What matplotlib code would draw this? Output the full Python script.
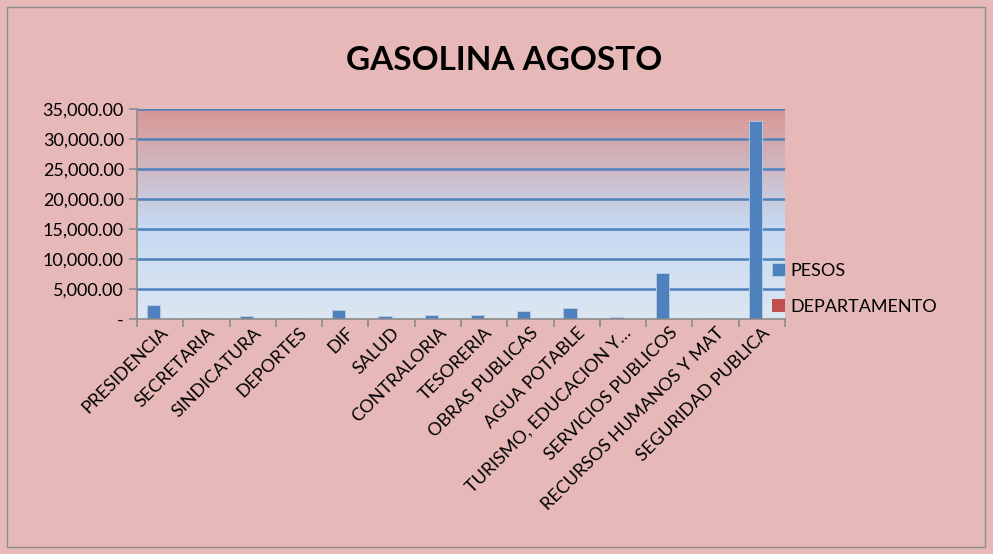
import matplotlib.pyplot as plt
from matplotlib.patches import Rectangle
from matplotlib.ticker import FuncFormatter
import numpy as np

plt.rcParams['font.family'] = ['Lato', 'DejaVu Sans']

departamentos = ["PRESIDENCIA", "SECRETARIA", "SINDICATURA", "DEPORTES", "DIF",
                 "SALUD", "CONTRALORIA", "TESORERIA", "OBRAS PUBLICAS",
                 "AGUA POTABLE", "TURISMO, EDUCACION Y…", "SERVICIOS PUBLICOS",
                 "RECURSOS HUMANOS Y MAT", "SEGURIDAD PUBLICA"]
pesos = [2300, 150, 500, 150, 1500, 500, 650, 700, 1300, 1800, 300, 7700, 250, 33000]
departamento = [0] * len(departamentos)

bg = '#E6B9B8'
fig = plt.figure(figsize=(9.93, 5.54), dpi=100, facecolor=bg)
ax = fig.add_axes([0.138, 0.424, 0.6525, 0.379])
fig.patches.append(Rectangle((0.007, 0.012), 0.985, 0.975, transform=fig.transFigure,
                             fill=False, edgecolor='#8c8c8c', lw=1))

# gradient background
top = np.array([0xD9, 0x96, 0x94]) / 255
mid = np.array([0xC6, 0xD9, 0xF1]) / 255
bot = np.array([0xDC, 0xE6, 0xF2]) / 255
n = 200
t = np.linspace(0, 1, n)
cols = np.zeros((n, 1, 3))
for i, v in enumerate(t):
    if v < 0.55:
        cols[i, 0] = top + (mid - top) * v / 0.55
    else:
        cols[i, 0] = mid + (bot - mid) * (v - 0.55) / 0.45
x = np.arange(len(departamentos))
ax.set_xlim(-0.5, len(departamentos) - 0.5)
ax.set_ylim(0, 35000)
ax.imshow(cols, aspect='auto', extent=[-0.5, len(departamentos) - 0.5, 0, 35000], zorder=0)
ax.set_facecolor('none')

for yv in range(5000, 35001, 5000):
    ax.axhline(yv, color='#4F81BD', lw=1.8, zorder=1)

w = 1 / 3.5
ax.bar(x - w / 2, pesos, w, color='#4F81BD', edgecolor='#B9CDE5', lw=0.6, zorder=2, label='PESOS')
ax.bar(x + w / 2, departamento, w, color='#C0504D', zorder=2, label='DEPARTAMENTO')

for s in ['top', 'right']:
    ax.spines[s].set_visible(False)
for s in ['left', 'bottom']:
    ax.spines[s].set_color('#8c8c8c')
    ax.spines[s].set_linewidth(1.2)

ax.set_yticks(range(0, 35001, 5000))
ax.yaxis.set_major_formatter(FuncFormatter(lambda v, p: '-' if v == 0 else f'{v:,.2f}'))
ax.set_xticks(np.arange(-0.5, len(departamentos), 1), minor=False)
ax.set_xticklabels([])
ax.set_xticks(x, minor=True)
ax.set_xticklabels(departamentos, minor=True, rotation=45, ha='right', rotation_mode='anchor')
ax.tick_params(axis='x', which='major', length=6, color='#8c8c8c', width=1.2)
ax.tick_params(axis='x', which='minor', length=0, labelsize=13, pad=4)
ax.tick_params(axis='y', length=6, color='#8c8c8c', width=1.2, labelsize=13)

fig.text(0.508, 0.89, 'GASOLINA AGOSTO', ha='center', va='center', fontsize=24, fontweight='bold')

ax.legend(loc='center left', bbox_to_anchor=(0.955, 0.145), frameon=False, fontsize=13,
          handlelength=0.7, handleheight=0.7, handletextpad=0.3, labelspacing=1.1)

fig.savefig('out.png', dpi=100, facecolor=bg)
